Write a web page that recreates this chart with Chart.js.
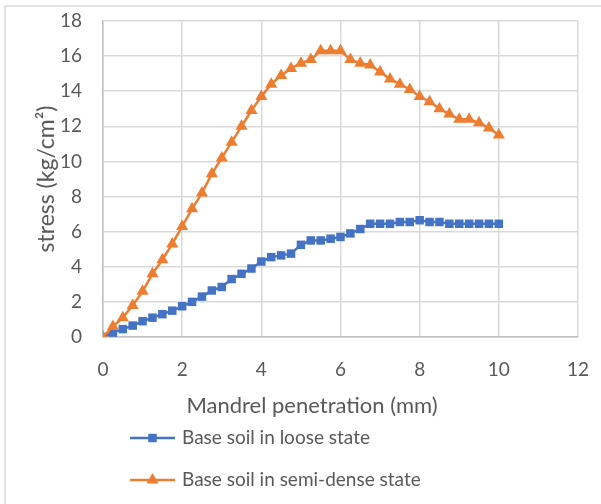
<!DOCTYPE html>
<html lang="en">
<head>
    <meta charset="UTF-8">
    <title>Stress vs mandrel penetration</title>
    <script src="https://cdn.jsdelivr.net/npm/chart.js"></script>
    <style>
        body {
            margin: 0;
            background: #fff;
        }
        #chart-container {
            width: 601px;
            height: 504px;
        }
    </style>
</head>
<body>
    <div id="chart-container">
        <canvas id="stressChart" width="601" height="504"></canvas>
    </div>

    <script>
        // penetration readings every 0.25 mm
        const penetration = [0, 0.25, 0.5, 0.75, 1, 1.25, 1.5, 1.75, 2, 2.25, 2.5, 2.75, 3, 3.25, 3.5, 3.75, 4, 4.25, 4.5, 4.75,
            5, 5.25, 5.5, 5.75, 6, 6.25, 6.5, 6.75, 7, 7.25, 7.5, 7.75, 8, 8.25, 8.5, 8.75, 9, 9.25, 9.5, 9.75, 10];
        const looseStress = [0, 0.25, 0.45, 0.65, 0.9, 1.1, 1.3, 1.5, 1.75, 2.0, 2.3, 2.65, 2.85, 3.3, 3.6, 3.9, 4.3, 4.55, 4.65, 4.75,
            5.25, 5.5, 5.5, 5.6, 5.7, 5.9, 6.15, 6.45, 6.45, 6.45, 6.55, 6.55, 6.65, 6.55, 6.55, 6.45, 6.45, 6.45, 6.45, 6.45, 6.45];
        const semiDenseStress = [0, 0.6, 1.1, 1.8, 2.6, 3.6, 4.4, 5.3, 6.3, 7.3, 8.2, 9.3, 10.2, 11.1, 12.0, 12.9, 13.7, 14.4, 14.9, 15.3,
            15.6, 15.8, 16.3, 16.3, 16.3, 15.8, 15.6, 15.5, 15.1, 14.7, 14.4, 14.1, 13.7, 13.4, 13.0, 12.7, 12.4, 12.4, 12.2, 11.9, 11.5];
        const seriesNames = ['Base soil in loose state', 'Base soil in semi-dense state'];
        const xTitle = 'Mandrel penetration (mm)';
        const yTitle = 'stress (kg/cm\u00B2)';

        const FONT = 'Lato, "Open Sans", sans-serif';
        const TEXT = '#595959';

        const toPoints = ys => ys.map((y, i) => ({ x: penetration[i], y: y }));

        // chart frame, axis titles and the stacked legend (Excel style)
        const excelDecor = {
            id: 'excelDecor',
            beforeDraw(chart) {
                const c = chart.ctx;
                c.save();
                c.strokeStyle = '#d9d9d9';
                c.lineWidth = 1.5;
                c.beginPath();
                c.moveTo(5, 504);
                c.lineTo(5, 6);
                c.lineTo(601, 6);
                c.stroke();
                c.restore();
            },
            afterDraw(chart) {
                const c = chart.ctx;
                const area = chart.chartArea;
                c.save();
                c.fillStyle = TEXT;
                c.textAlign = 'center';
                c.textBaseline = 'middle';

                c.font = '22px ' + FONT;
                c.fillText(xTitle, 312, 406);

                c.save();
                c.translate(47, (area.top + area.bottom) / 2);
                c.rotate(-Math.PI / 2);
                c.font = '23px ' + FONT;
                c.fillText(yTitle, 0, 0);
                c.restore();

                c.font = '19px ' + FONT;
                const rows = [438, 480];
                chart.data.datasets.forEach((ds, i) => {
                    const y = rows[i];
                    c.strokeStyle = ds.borderColor;
                    c.lineWidth = ds.borderWidth;
                    c.beginPath();
                    c.moveTo(130, y);
                    c.lineTo(175, y);
                    c.stroke();
                    c.fillStyle = ds.backgroundColor;
                    Chart.helpers.drawPoint(c, { pointStyle: ds.pointStyle, radius: ds.pointRadius, rotation: 0, borderWidth: 0 }, 152.5, y);
                    c.fillStyle = TEXT;
                    c.textAlign = 'left';
                    c.fillText(ds.label, 182, y);
                });
                c.restore();
            }
        };

        const ctx = document.getElementById('stressChart').getContext('2d');
        const stressChart = new Chart(ctx, {
            type: 'line',
            data: {
                datasets: [
                    {
                        label: seriesNames[0],
                        data: toPoints(looseStress),
                        borderColor: '#4472C4',
                        backgroundColor: '#4472C4',
                        borderWidth: 2.5,
                        pointStyle: 'rect',
                        pointRadius: 6,
                        pointBorderWidth: 0,
                        order: 1
                    },
                    {
                        label: seriesNames[1],
                        data: toPoints(semiDenseStress),
                        borderColor: '#ED7D31',
                        backgroundColor: '#ED7D31',
                        borderWidth: 2.5,
                        pointStyle: 'triangle',
                        pointRadius: 7,
                        pointBorderWidth: 0,
                        order: 0
                    }
                ]
            },
            options: {
                responsive: false,
                animation: false,
                layout: { padding: { left: 0, top: 21, right: 23, bottom: 0 } },
                plugins: {
                    legend: { display: false },
                    tooltip: { enabled: false }
                },
                scales: {
                    x: {
                        type: 'linear',
                        min: 0,
                        max: 12,
                        ticks: { stepSize: 2, padding: 21, color: TEXT, font: { family: FONT, size: 19 } },
                        grid: { color: '#d9d9d9', lineWidth: 1.5, drawTicks: false },
                        border: { color: '#bfbfbf', width: 1.5 },
                        afterFit: s => {
                            s.height = 504 - 337;
                            s.paddingLeft = 0;
                            s.paddingRight = 0;
                        }
                    },
                    y: {
                        min: 0,
                        max: 18,
                        ticks: { stepSize: 2, padding: 21, color: TEXT, font: { family: FONT, size: 19 } },
                        grid: { color: '#d9d9d9', lineWidth: 1.5, drawTicks: false },
                        border: { color: '#bfbfbf', width: 1.5 },
                        afterFit: s => {
                            s.width = 103;
                            s.paddingTop = 0;
                            s.paddingBottom = 0;
                        }
                    }
                }
            },
            plugins: [excelDecor]
        });
    </script>
</body>
</html>
